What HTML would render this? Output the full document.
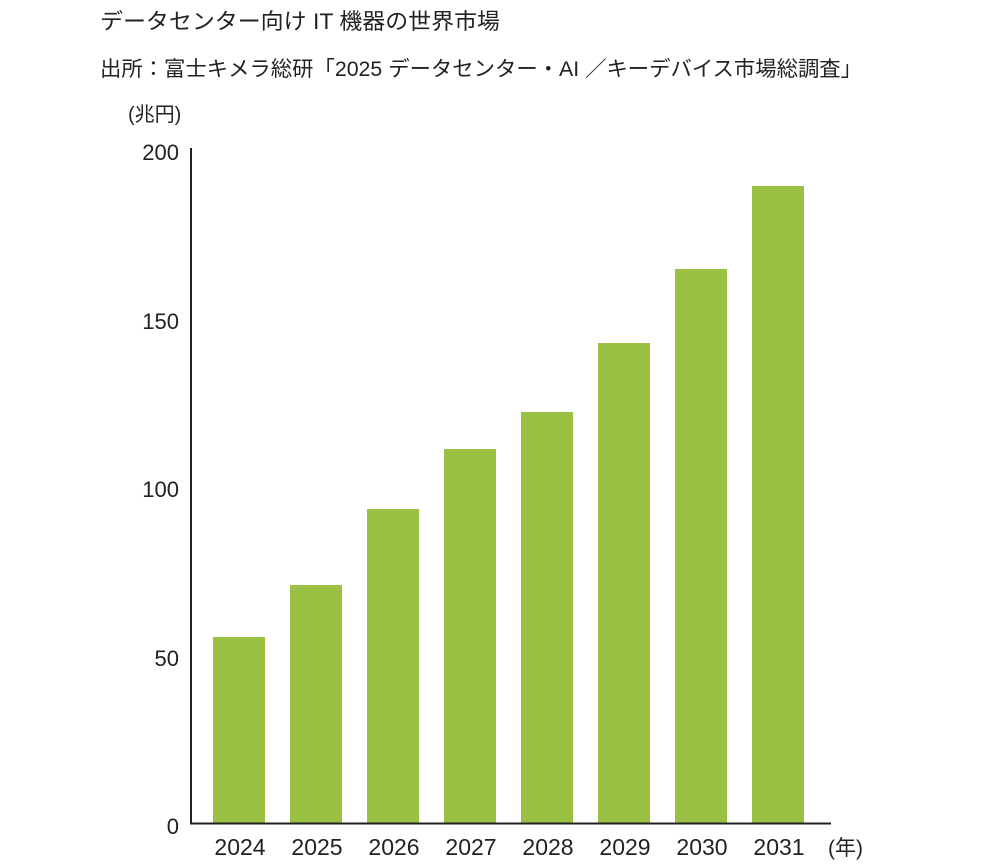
<!DOCTYPE html>
<html><head><meta charset="utf-8"><style>
html,body{margin:0;padding:0;background:#fff;}
svg{display:block;}
text{font-family:"Liberation Sans","Noto Sans CJK JP",sans-serif;fill:#222;}
</style></head><body>
<svg width="1000" height="866" viewBox="0 0 1000 866">
<text x="100" y="29" font-size="22" textLength="400" lengthAdjust="spacingAndGlyphs">データセンター向け IT 機器の世界市場</text>
<text x="100" y="76" font-size="21" textLength="762" lengthAdjust="spacingAndGlyphs">出所：富士キメラ総研「2025 データセンター・AI ／キーデバイス市場総調査」</text>
<text x="128" y="121" font-size="20">(兆円)</text>
<g font-size="22" text-anchor="end">
<text x="179" y="160">200</text>
<text x="179" y="329">150</text>
<text x="179" y="497">100</text>
<text x="179" y="666">50</text>
<text x="179" y="834">0</text>
</g>
<g fill="#9bc144">
<rect x="213" y="637" width="52" height="186"/>
<rect x="290" y="585" width="52" height="238"/>
<rect x="367" y="509" width="52" height="314"/>
<rect x="444" y="449" width="52" height="374"/>
<rect x="521" y="412" width="52" height="411"/>
<rect x="598" y="343" width="52" height="480"/>
<rect x="675" y="269" width="52" height="554"/>
<rect x="752" y="186" width="52" height="637"/>
</g>
<line x1="191" y1="148" x2="191" y2="824" stroke="#222" stroke-width="2"/>
<line x1="190" y1="823.5" x2="831" y2="823.5" stroke="#222" stroke-width="2"/>
<g font-size="23" text-anchor="middle">
<text x="240" y="855">2024</text>
<text x="317" y="855">2025</text>
<text x="394" y="855">2026</text>
<text x="471" y="855">2027</text>
<text x="548" y="855">2028</text>
<text x="625" y="855">2029</text>
<text x="702" y="855">2030</text>
<text x="779" y="855">2031</text>
</g>
<text x="828" y="855" font-size="21">(年)</text>
</svg>
</body></html>
